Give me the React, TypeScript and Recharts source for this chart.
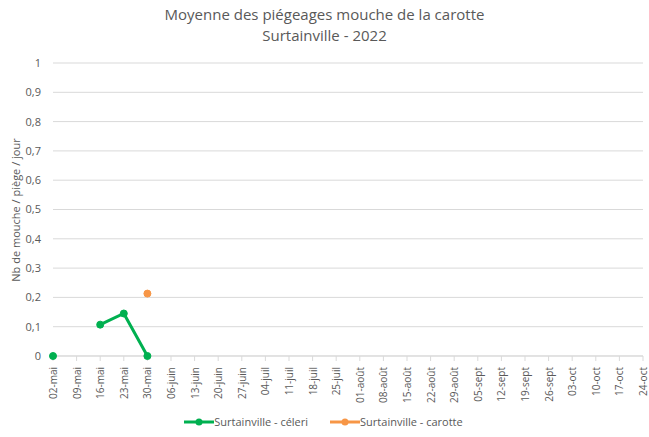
import { CartesianGrid, Line, LineChart, XAxis, YAxis } from "recharts";

const dates = [
  "02-mai", "09-mai", "16-mai", "23-mai", "30-mai",
  "06-juin", "13-juin", "20-juin", "27-juin",
  "04-juil", "11-juil", "18-juil", "25-juil",
  "01-août", "08-août", "15-août", "22-août", "29-août",
  "05-sept", "12-sept", "19-sept", "26-sept",
  "03-oct", "10-oct", "17-oct", "24-oct",
];
const celeri: (number | null)[] = [0, null, 0.107, 0.145, 0];
const carotte: (number | null)[] = [null, null, null, null, 0.213];
const yTicks = [0, 0.1, 0.2, 0.3, 0.4, 0.5, 0.6, 0.7, 0.8, 0.9, 1];

const GREEN = "#00b050";
const ORANGE = "#f79646";
const TEXT = "#595959";
const FONT = "'Open Sans', 'Noto Sans', sans-serif";

const data = dates.map((d, i) => ({
  date: d,
  celeri: celeri[i] ?? null,
  carotte: carotte[i] ?? null,
}));

function DateTick(props: any) {
  const { x, y, payload } = props;
  return (
    <text
      x={x}
      y={y}
      transform={`rotate(-90, ${x}, ${y})`}
      dx={-4}
      dy={4}
      textAnchor="end"
      fill={TEXT}
      fontSize={10}
      fontFamily={FONT}
    >
      {payload.value}
    </text>
  );
}

function LegendItem({ color, label }: { color: string; label: string }) {
  return (
    <span style={{ display: "inline-flex", alignItems: "center", marginRight: 22 }}>
      <svg width={30} height={10}>
        <line x1={0} y1={5} x2={30} y2={5} stroke={color} strokeWidth={3} />
        <circle cx={15} cy={5} r={3.5} fill={color} />
      </svg>
      <span>{label}</span>
    </span>
  );
}

export default function App() {
  return (
    <div
      style={{
        position: "absolute",
        left: 0,
        top: 0,
        width: 649,
        height: 437,
        background: "#fff",
        fontFamily: FONT,
      }}
    >
      <div
        style={{
          position: "absolute",
          top: 4,
          left: 0,
          width: 649,
          textAlign: "center",
          color: TEXT,
          fontSize: 15,
          lineHeight: "21px",
        }}
      >
        Moyenne des piégeages mouche de la carotte
        <br />
        Surtainville - 2022
      </div>
      <div
        style={{
          position: "absolute",
          left: 15,
          top: 210,
          transform: "translate(-50%, -50%) rotate(-90deg)",
          whiteSpace: "nowrap",
          color: TEXT,
          fontSize: 11,
        }}
      >
        Nb de mouche / piège / jour
      </div>
      <LineChart
        width={649}
        height={437}
        data={data}
        margin={{ top: 63, right: 6, left: 0, bottom: 41 }}
      >
        <CartesianGrid vertical={false} stroke="#d9d9d9" />
        <XAxis
          dataKey="date"
          interval={0}
          tick={<DateTick />}
          tickSize={5}
          tickLine={{ stroke: "#d9d9d9" }}
          axisLine={{ stroke: "#d9d9d9" }}
          height={40}
        />
        <YAxis
          width={53}
          domain={[0, 1]}
          ticks={yTicks}
          axisLine={false}
          tickLine={false}
          tickMargin={6}
          tick={{ fill: TEXT, fontSize: 11, fontFamily: FONT }}
          tickFormatter={(v: number) => String(Math.round(v * 10) / 10).replace(".", ",")}
        />
        <Line
          dataKey="celeri"
          name="Surtainville - céleri"
          stroke={GREEN}
          strokeWidth={3}
          dot={{ r: 3.5, fill: GREEN, stroke: GREEN, strokeWidth: 1 }}
          connectNulls={false}
          isAnimationActive={false}
        />
        <Line
          dataKey="carotte"
          name="Surtainville - carotte"
          stroke={ORANGE}
          strokeWidth={3}
          dot={{ r: 3.5, fill: ORANGE, stroke: ORANGE, strokeWidth: 1 }}
          connectNulls={false}
          isAnimationActive={false}
        />
      </LineChart>
      <div
        style={{
          position: "absolute",
          top: 414,
          left: 0,
          width: 649,
          display: "flex",
          justifyContent: "center",
          color: TEXT,
          fontSize: 11,
          paddingLeft: 20,
          boxSizing: "border-box",
        }}
      >
        <LegendItem color={GREEN} label="Surtainville - céleri" />
        <LegendItem color={ORANGE} label="Surtainville - carotte" />
      </div>
    </div>
  );
}
